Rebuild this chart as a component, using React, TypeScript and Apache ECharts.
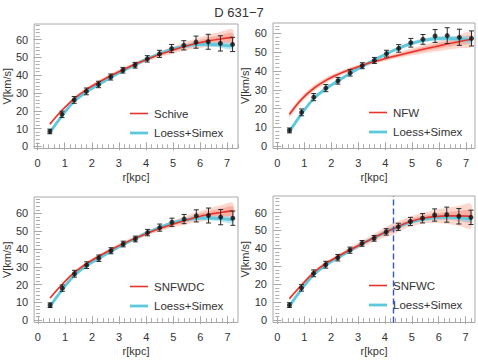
import React, { useEffect, useRef } from "react";
import * as echarts from "echarts";

// ---- data ----
const R = [0.45, 0.9, 1.35, 1.8, 2.25, 2.7, 3.15, 3.6, 4.05, 4.5, 4.95, 5.4, 5.85, 6.3, 6.75, 7.2];
const V_OBS = [8.4, 18.0, 26.1, 30.9, 34.8, 39.0, 42.8, 45.6, 49.2, 52.0, 55.0, 56.8, 58.6, 58.8, 57.9, 57.3];
const V_ERR = [1.3, 1.8, 1.9, 1.9, 1.8, 1.7, 1.6, 1.6, 1.8, 2.0, 2.3, 2.6, 3.4, 4.2, 4.3, 4.0];

const LOESS = [7.8, 17.2, 25.3, 30.6, 34.7, 38.7, 42.5, 45.9, 49.2, 52.1, 54.5, 56.2, 57.2, 57.4, 57.0, 56.3];
const LOESS_BAND = [1.0, 1.0, 0.9, 0.9, 0.8, 0.8, 0.8, 0.8, 0.8, 0.9, 1.0, 1.1, 1.2, 1.3, 1.5, 1.8];

const SCHIVE = [12.5, 20.3, 26.9, 31.9, 36.0, 39.7, 43.1, 46.2, 49.0, 51.6, 53.9, 56.0, 57.8, 59.3, 60.4, 61.3];
const SCHIVE_IN = [0.3, 0.4, 0.5, 0.6, 0.7, 0.7, 0.7, 0.7, 0.7, 0.8, 1.0, 1.2, 1.5, 1.8, 2.1, 2.4];
const SCHIVE_OUT = [0.6, 0.8, 1.0, 1.2, 1.3, 1.3, 1.3, 1.3, 1.3, 1.5, 1.9, 2.3, 2.8, 3.4, 4.0, 4.6];

const NFW = [17.0, 25.0, 30.8, 35.0, 38.2, 40.8, 43.0, 45.0, 46.8, 48.4, 50.0, 51.5, 52.9, 54.3, 55.6, 56.9];
const NFW_IN = [0.8, 0.9, 0.9, 0.8, 0.7, 0.6, 0.6, 0.6, 0.7, 0.8, 1.0, 1.2, 1.4, 1.6, 1.8, 2.0];
const NFW_OUT = [1.5, 1.6, 1.6, 1.5, 1.3, 1.2, 1.1, 1.1, 1.3, 1.5, 1.8, 2.2, 2.6, 3.0, 3.5, 4.0];

const SNFWDC = [12.5, 20.2, 26.8, 31.8, 35.9, 39.6, 43.0, 46.1, 48.9, 51.5, 53.8, 55.9, 57.8, 59.4, 60.5, 61.4];
const SNFWDC_IN = [0.3, 0.4, 0.5, 0.6, 0.7, 0.7, 0.7, 0.7, 0.7, 0.8, 1.0, 1.2, 1.5, 1.8, 2.1, 2.4];
const SNFWDC_OUT = [0.6, 0.8, 1.0, 1.2, 1.3, 1.3, 1.3, 1.3, 1.3, 1.5, 1.9, 2.3, 2.8, 3.4, 4.0, 4.6];

const R_C = [0.45, 0.9, 1.35, 1.8, 2.25, 2.7, 3.15, 3.6, 4.05, 4.3, 4.5, 4.95, 5.4, 5.85, 6.3, 6.75, 7.2];
const SNFWC = [12.0, 19.6, 26.5, 31.6, 35.5, 39.2, 42.6, 46.0, 49.3, 50.8, 52.3, 55.0, 56.8, 57.7, 58.1, 58.1, 57.9];
const SNFWC_IN = [0.4, 0.45, 0.5, 0.55, 0.65, 0.75, 0.9, 1.1, 1.4, 1.7, 1.5, 1.4, 1.5, 1.8, 2.2, 2.7, 3.3];
const SNFWC_OUT = [0.8, 0.9, 1.0, 1.1, 1.3, 1.5, 1.8, 2.2, 2.8, 3.3, 3.0, 2.8, 3.0, 3.6, 4.5, 5.5, 6.8];
const R_CORE = 4.3;

const X_TICKS = [0, 1, 2, 3, 4, 5, 6, 7];
const Y_TICKS = [0, 10, 20, 30, 40, 50, 60];
const TITLE = "D 631\u22127";

const PANELS = [
  { model: "Schive", r: R, v: SCHIVE, inner: SCHIVE_IN, outer: SCHIVE_OUT, grid: { left: 34, top: 24, width: 204, height: 124.5 }, x: [-0.13, 7.4], y: [-1.2, 68.8], core: false },
  { model: "NFW", r: R, v: NFW, inner: NFW_IN, outer: NFW_OUT, grid: { left: 273, top: 23, width: 202, height: 125.5 }, x: [-0.16, 7.33], y: [-1.2, 65.5], core: false },
  { model: "SNFWDC", r: R, v: SNFWDC, inner: SNFWDC_IN, outer: SNFWDC_OUT, grid: { left: 34, top: 197, width: 204, height: 125.5 }, x: [-0.14, 7.39], y: [-1.3, 69.2], core: false },
  { model: "SNFWC", r: R_C, v: SNFWC, inner: SNFWC_IN, outer: SNFWC_OUT, grid: { left: 273, top: 196, width: 202, height: 126.5 }, x: [-0.16, 7.35], y: [-1.3, 69.2], core: true },
];

const FONT = "Liberation Sans, Arial, sans-serif";
const RED = "#e8342c";
const CYAN = "#5ec9dd";
const TXT = "#333";
const FRAME = "#a8a8a8";

function range(a: number, b: number, s: number) {
  const out: number[] = [];
  for (let k = 0; a + k * s <= b + 1e-9; k++) out.push(+(a + k * s).toFixed(4));
  return out;
}

export default function App() {
  const ref = useRef<HTMLDivElement>(null);
  useEffect(() => {
    if (!ref.current) return;
    const chart = echarts.init(ref.current, null, { renderer: "svg" });

    const grids: any[] = [];
    const xAxes: any[] = [];
    const yAxes: any[] = [];
    const series: any[] = [];
    const graphics: any[] = [];

    PANELS.forEach((p, g) => {
      grids.push({ ...p.grid, show: true, borderColor: FRAME, borderWidth: 1, backgroundColor: "transparent" });
      const xMinor = range(0, p.x[1], 0.2).filter((v) => v >= p.x[0]);
      const yMinor = range(0, p.y[1], 2);
      const baseX = { type: "value", gridIndex: g, min: p.x[0], max: p.x[1], axisLine: { show: false }, splitLine: { show: false } };
      const baseY = { type: "value", gridIndex: g, min: p.y[0], max: p.y[1], axisLine: { show: false }, splitLine: { show: false } };
      const tick = (vals: number[], len: number) => ({ show: true, inside: true, length: len, customValues: vals, lineStyle: { color: FRAME, width: 1 } });
      xAxes.push({
        ...baseX, position: "bottom",
        axisTick: tick(X_TICKS, 4),
        axisLabel: { show: true, customValues: X_TICKS, margin: 9, color: TXT, fontSize: 11, fontFamily: FONT },
        name: "r[kpc]", nameLocation: "middle", nameGap: 23,
        nameTextStyle: { color: TXT, fontSize: 11, fontFamily: FONT, verticalAlign: "top" },
      });
      xAxes.push({ ...baseX, position: "bottom", axisTick: tick(xMinor, 2), axisLabel: { show: false } });
      xAxes.push({ ...baseX, position: "top", axisTick: tick(X_TICKS, 4), axisLabel: { show: false } });
      xAxes.push({ ...baseX, position: "top", axisTick: tick(xMinor, 2), axisLabel: { show: false } });
      yAxes.push({
        ...baseY, position: "left",
        axisTick: tick(Y_TICKS, 4),
        axisLabel: { show: true, customValues: Y_TICKS, margin: 6, color: TXT, fontSize: 11, fontFamily: FONT },
        name: "V[km/s]", nameLocation: "middle", nameGap: 20,
        nameTextStyle: { color: TXT, fontSize: 11, fontFamily: FONT },
      });
      yAxes.push({ ...baseY, position: "left", axisTick: tick(yMinor, 2), axisLabel: { show: false } });
      yAxes.push({ ...baseY, position: "right", axisTick: tick(Y_TICKS, 4), axisLabel: { show: false } });
      yAxes.push({ ...baseY, position: "right", axisTick: tick(yMinor, 2), axisLabel: { show: false } });

      const xi = g * 4;
      const yi = g * 4;
      const common = { xAxisIndex: xi, yAxisIndex: yi, silent: true };

      const band = (rs: number[], mid: number[], half: number[], color: string, smooth: number) => {
        const data = rs.map((r, i) => [r, mid[i] - half[i], mid[i] + half[i]]);
        series.push({
          ...common, type: "custom", data, clip: true,
          renderItem: (params: any, api: any) => {
            if (params.dataIndex !== 0) return null;
            const up = data.map((d) => api.coord([d[0], d[2]]));
            const lo = data.map((d) => api.coord([d[0], d[1]])).reverse();
            return {
              type: "group",
              children: [
                { type: "polygon", shape: { points: up.concat(lo), smooth }, style: { fill: color, stroke: "none" } },
              ],
            };
          },
        });
      };
      const sm = p.core ? 0.25 : 0.4;
      band(p.r, p.v, p.outer, "rgba(247,150,125,0.38)", 0.3);
      band(p.r, p.v, p.inner, "rgba(240,105,85,0.35)", 0.3);
      band(R, LOESS, LOESS_BAND, "rgba(140,215,232,0.55)", 0.3);

      series.push({ ...common, type: "line", data: R.map((r, i) => [r, LOESS[i]]), symbol: "none", smooth: 0.4, lineStyle: { color: CYAN, width: 2.8 } });
      series.push({
        ...common, type: "line", data: p.r.map((r, i) => [r, p.v[i]]), symbol: "none", smooth: sm, lineStyle: { color: RED, width: 1.6 },
        markLine: p.core
          ? { symbol: "none", silent: true, label: { show: false }, lineStyle: { color: "#3557c4", type: [6, 3], width: 1.4 }, data: [{ xAxis: R_CORE }] }
          : undefined,
      });
      series.push({
        ...common, type: "custom",
        data: R.map((r, i) => [r, V_OBS[i], V_ERR[i]]),
        renderItem: (params: any, api: any) => {
          const x = api.value(0), y = api.value(1), e = api.value(2);
          const top = api.coord([x, y + e]);
          const bot = api.coord([x, y - e]);
          const c = 2.5;
          const st = { stroke: "#2a2a2a", lineWidth: 1 };
          return {
            type: "group",
            children: [
              { type: "line", shape: { x1: top[0], y1: top[1], x2: bot[0], y2: bot[1] }, style: st },
              { type: "line", shape: { x1: top[0] - c, y1: top[1], x2: top[0] + c, y2: top[1] }, style: st },
              { type: "line", shape: { x1: bot[0] - c, y1: bot[1], x2: bot[0] + c, y2: bot[1] }, style: st },
            ],
          };
        },
        z: 5,
      });
      series.push({ ...common, type: "scatter", data: R.map((r, i) => [r, V_OBS[i]]), symbol: "circle", symbolSize: 5, itemStyle: { color: "#111" }, z: 6 });

      const lx = p.grid.left + 96;
      const ly1 = p.grid.top + 89.5;
      const ly2 = ly1 + 19.5;
      graphics.push({ type: "line", shape: { x1: lx, y1: ly1, x2: lx + 18, y2: ly1 }, style: { stroke: RED, lineWidth: 1.6 } });
      graphics.push({ type: "text", x: lx + 24, y: ly1, style: { text: p.model, fill: TXT, font: `11.5px ${FONT}`, textVerticalAlign: "middle" } });
      graphics.push({ type: "line", shape: { x1: lx, y1: ly2, x2: lx + 18, y2: ly2 }, style: { stroke: CYAN, lineWidth: 2.8 } });
      graphics.push({ type: "text", x: lx + 24, y: ly2, style: { text: "Loess+Simex", fill: TXT, font: `11.5px ${FONT}`, textVerticalAlign: "middle" } });
    });

    chart.setOption({
      animation: false,
      title: { text: TITLE, left: "center", top: 1, textStyle: { color: TXT, fontSize: 13, fontWeight: "normal", fontFamily: FONT } },
      grid: grids,
      xAxis: xAxes,
      yAxis: yAxes,
      series,
      graphic: graphics,
    });
    return () => chart.dispose();
  }, []);
  return <div ref={ref} style={{ position: "fixed", left: 0, top: 0, width: 478, height: 364, background: "#fff" }} />;
}
